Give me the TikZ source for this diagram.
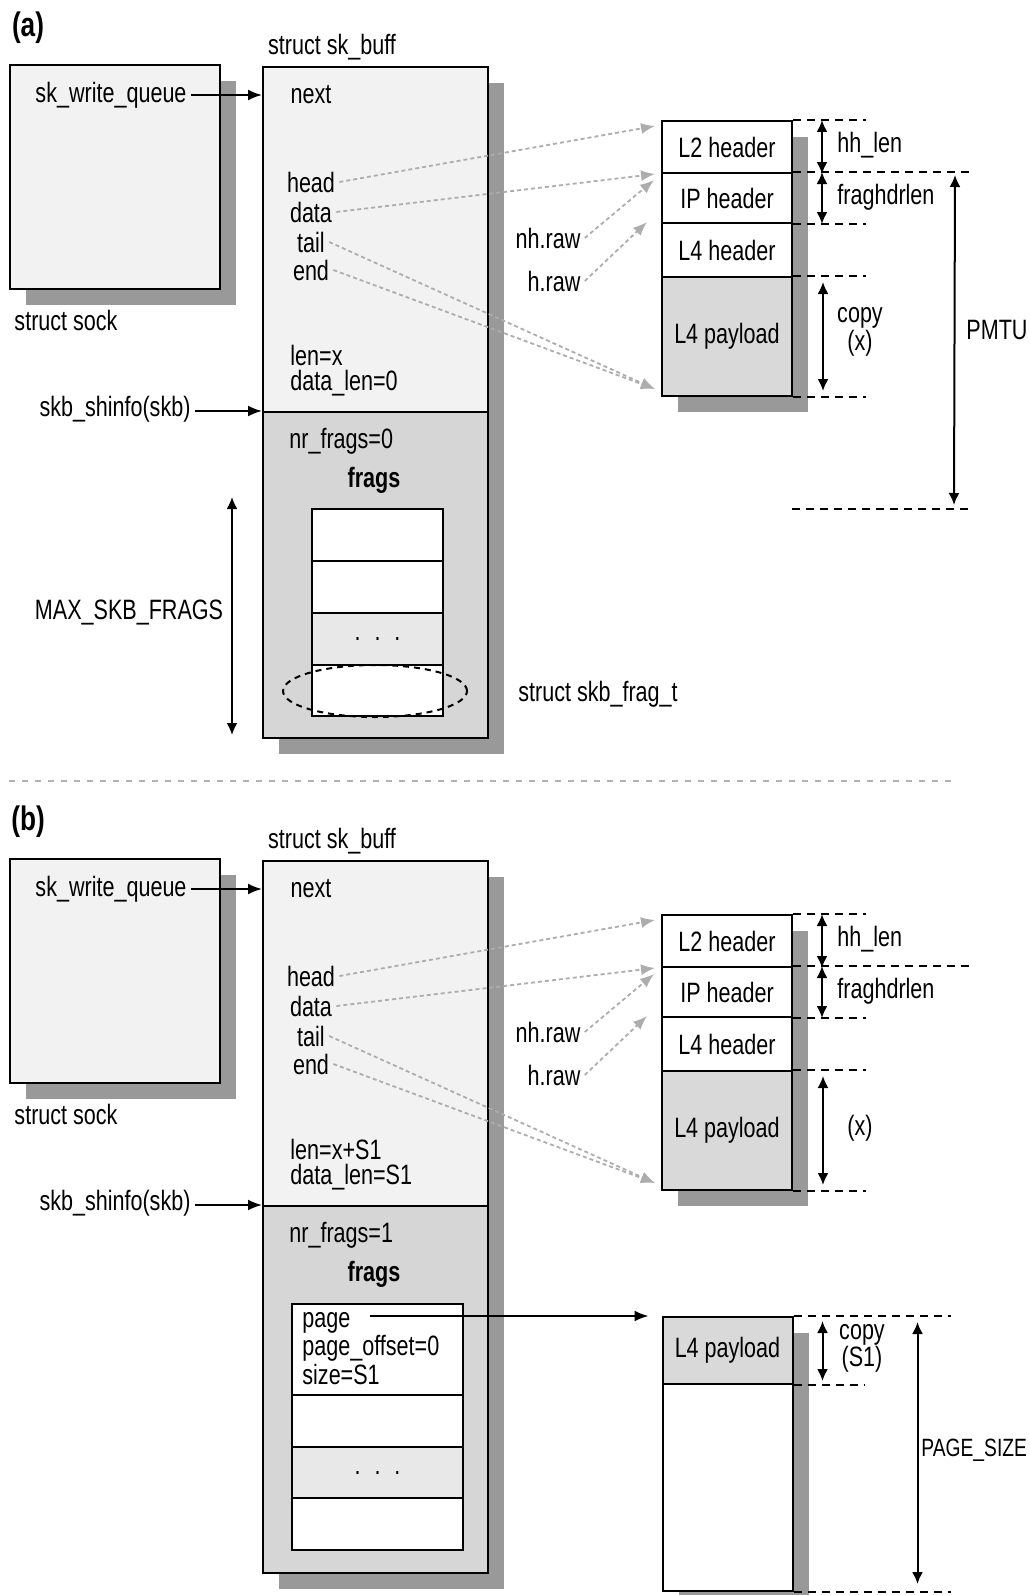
\documentclass[tikz,border=0pt]{standalone}
\usepackage{fontspec}
\setmainfont[FakeStretch=0.77]{Liberation Sans}
\usetikzlibrary{arrows.meta, shapes.geometric, shadows}

\begin{document}
\begin{tikzpicture}[x=0.5pt,y=-0.5pt, inner sep=2pt, font=\fontsize{14}{14}\selectfont,
    box/.style={draw, line width=1pt, inner sep=0pt},
    dropsh/.style={drop shadow={shadow xshift=8pt, shadow yshift=-8pt, fill=black!40, opacity=1}},
    row/.style={box, dropsh, fill=white, minimum width=65pt},
    cell/.style={box, fill=white, minimum width=65.5pt},
    arr/.style={line width=1pt, -{Latex[length=7pt,width=5.5pt]}},
    dim/.style={line width=1pt, {Latex[length=6pt,width=5.5pt]}-{Latex[length=6pt,width=5.5pt]}},
    ptr/.style={black!32, line width=0.9pt, dash pattern=on 2pt off 1.5pt, -{Latex[length=7pt,width=5.5pt]}},
    guide/.style={line width=0.8pt, dash pattern=on 4pt off 3pt},
    tag/.style={font=\fontsize{17}{17}\selectfont\bfseries}]
		\useasboundingbox (0,0) rectangle (1029,1595);

		% (a)
		\node[tag] (taga) at (28,28) {(a)};
		\node[box, dropsh, fill=black!5, minimum width=105pt, minimum height=112pt] (socka) at (115,177) {};
		\node (swqa) at (111,95) {sk\_write\_queue};
		\node (sockna) at (66,320) {struct sock};

		\node (skbna) at (332,47) {struct sk\_buff};
		\node[box, dropsh, fill=black!5, minimum width=112.5pt, minimum height=172.5pt] (skbtopa) at (375.5,239.5) {};
		\node[box, dropsh, fill=black!16, minimum width=112.5pt, minimum height=163pt] (skbinfoa) at (375.5,575) {};
		\node (nexta) at (311,95) {next};
		\node (heada) at (311,182) {head};
		\node (dataa) at (311,212) {data};
		\node (taila) at (311,242) {tail};
		\node (enda) at (311,270) {end};
		\node[anchor=west] (lena) at (286,355) {len=x};
		\node[anchor=west] (dlena) at (286,383) {data\_len=0};
		\node (shinfoa) at (115,409) {skb\_shinfo(skb)};
		\node[anchor=west] (nra) at (285,441) {nr\_frags=0};
		\node[font=\fontsize{14}{14}\selectfont\bfseries] (fragsa) at (374,480) {frags};
		\node[cell, minimum height=26pt] (fa1) at (377.5,535) {};
		\node[cell, minimum height=26pt] (fa2) at (377.5,587) {};
		\node[cell, fill=black!9, minimum height=26pt] (fa3) at (377.5,639) {. \ . \ .};
		\node[cell, minimum height=25.5pt] (fa4) at (377.5,690.5) {};
		\node[draw, ellipse, line width=1pt, dash pattern=on 3pt off 2.5pt, inner sep=0pt, minimum width=92pt, minimum height=26pt] (ovala) at (375,691) {};
		\node (ftna) at (598,694) {struct skb\_frag\_t};
		\coordinate (maxta) at (232,497);
		\coordinate (maxba) at (232,735);
		\draw[dim] (maxta) -- (maxba);
		\node (maxa) at (129,613) {MAX\_SKB\_FRAGS};

		\draw[arr] (swqa) -- (swqa -| skbtopa.west);
		\draw[arr] (shinfoa.east |- skbinfoa.north) -- (skbinfoa.north west);

		% packet (a)
		\node[row, minimum height=26pt] (l2a) at (727,147) {L2 header};
		\node[row, minimum height=25pt] (ipa) at (727,198) {IP header};
		\node[row, minimum height=27pt] (l4a) at (727,250) {L4 header};
		\node[row, fill=black!15, minimum height=59.5pt] (paya) at (727,336.5) {L4 payload};
		\draw[guide] (l2a.north east) -- ++(73,0);
		\draw[guide] (ipa.north east) -- ++(180,0);
		\draw[guide] (ipa.south east) -- ++(73,0);
		\draw[guide] (paya.north east) -- ++(73,0);
		\draw[guide] (paya.south east) -- ++(73,0);
		\coordinate (mtua) at (792,509);
		\draw[guide] (mtua) -- ++(180,0);
		\draw[dim] ([xshift=14.5pt]l2a.north east) -- ([xshift=14.5pt]l2a.south east);
		\node[anchor=west] (hha) at (833,145) {hh\_len};
		\draw[dim] ([xshift=14.5pt]ipa.north east) -- ([xshift=14.5pt]ipa.south east);
		\node[anchor=west] (fhla) at (833,197) {fraghdrlen};
		\draw[dim] ([xshift=15pt,yshift=-3pt]paya.north east) -- ([xshift=15pt,yshift=3pt]paya.south east);
		\node[align=center, font=\fontsize{14}{12}\selectfont] (cpa) at (860,332) {copy\\(x)};
		\draw[dim] ([xshift=81pt,yshift=-1.5pt]ipa.north east) -- ([xshift=81pt,yshift=2pt]mtua);
		\node (pmtua) at (997,330) {PMTU};

		\node (nha) at (548,238) {nh.raw};
		\node (ha) at (554,281) {h.raw};
		\draw[ptr] (heada.east) -- ([shift={(-3pt,-3pt)}]l2a.north west);
		\draw[ptr] (dataa.east) -- ([shift={(-3pt,-1pt)}]ipa.north west);
		\draw[ptr] (nha.east) -- ([shift={(-3.5pt,-4pt)}]ipa.north west);
		\draw[ptr] (ha.east) -- ([shift={(-7pt,0pt)}]l4a.north west);
		\draw[ptr] (taila.east) -- ([shift={(-3pt,4pt)}]paya.south west);
		\draw[ptr] (enda.east) -- ([shift={(-3pt,4pt)}]paya.south west);

		\coordinate (cutl) at (9,781);
		\coordinate (cutr) at (951,781);
		\draw[black!30, line width=1.3pt, dash pattern=on 3pt off 3.5pt] (cutl) -- (cutr);

		% (b)
		\begin{scope}[shift={(0,794)}]
		\node[tag] (tagb) at (28,28) {(b)};
		\node[box, dropsh, fill=black!5, minimum width=105pt, minimum height=112pt] (sockb) at (115,177) {};
		\node (swqb) at (111,95) {sk\_write\_queue};
		\node (socknb) at (66,320) {struct sock};

		\node (skbnb) at (332,47) {struct sk\_buff};
		\node[box, dropsh, fill=black!5, minimum width=112.5pt, minimum height=172.5pt] (skbtopb) at (375.5,239.5) {};
		\node[box, dropsh, fill=black!16, minimum width=112.5pt, minimum height=183.5pt] (skbinfob) at (375.5,595.5) {};
		\node (nextb) at (311,95) {next};
		\node (headb) at (311,182) {head};
		\node (datab) at (311,212) {data};
		\node (tailb) at (311,242) {tail};
		\node (endb) at (311,270) {end};
		\node[anchor=west] (lenb) at (286,355) {len=x+S1};
		\node[anchor=west] (dlenb) at (286,383) {data\_len=S1};
		\node (shinfob) at (115,409) {skb\_shinfo(skb)};
		\node[anchor=west] (nrb) at (285,441) {nr\_frags=1};
		\node[font=\fontsize{14}{14}\selectfont\bfseries] (fragsb) at (374,480) {frags};
		\node[cell, minimum width=85.5pt, minimum height=45.5pt] (fb1) at (377.5,555.5) {};
		\node[cell, minimum width=85.5pt, minimum height=26pt] (fb2) at (377.5,627) {};
		\node[cell, minimum width=85.5pt, fill=black!9, minimum height=25.5pt] (fb3) at (377.5,678.5) {. \ . \ .};
		\node[cell, minimum width=85.5pt, minimum height=26pt] (fb4) at (377.5,730) {};
		\node[anchor=base west] (pageb) at (298,533) {page};
		\node[anchor=base west] (offb) at (298,561) {page\_offset=0};
		\node[anchor=base west] (sizeb) at (298,590) {size=S1};

		\draw[arr] (swqb) -- (swqb -| skbtopb.west);
		\draw[arr] (shinfob.east |- skbinfob.north) -- (skbinfob.north west);

		% packet (b)
		\node[row, minimum height=26pt] (l2b) at (727,147) {L2 header};
		\node[row, minimum height=25pt] (ipb) at (727,198) {IP header};
		\node[row, minimum height=27pt] (l4b) at (727,250) {L4 header};
		\node[row, fill=black!15, minimum height=59.5pt] (payb) at (727,336.5) {L4 payload};
		\draw[guide] (l2b.north east) -- ++(73,0);
		\draw[guide] (ipb.north east) -- ++(180,0);
		\draw[guide] (ipb.south east) -- ++(73,0);
		\draw[guide] (payb.north east) -- ++(73,0);
		\draw[guide] (payb.south east) -- ++(73,0);
		\draw[dim] ([xshift=14.5pt]l2b.north east) -- ([xshift=14.5pt]l2b.south east);
		\node[anchor=west] (hhb) at (833,145) {hh\_len};
		\draw[dim] ([xshift=14.5pt]ipb.north east) -- ([xshift=14.5pt]ipb.south east);
		\node[anchor=west] (fhlb) at (833,197) {fraghdrlen};
		\draw[dim] ([xshift=15pt,yshift=-3pt]payb.north east) -- ([xshift=15pt,yshift=3pt]payb.south east);
		\node (cpb) at (860,334) {(x)};

		\node (nhb) at (548,238) {nh.raw};
		\node (hb) at (554,281) {h.raw};
		\draw[ptr] (headb.east) -- ([shift={(-3pt,-3pt)}]l2b.north west);
		\draw[ptr] (datab.east) -- ([shift={(-3pt,-1pt)}]ipb.north west);
		\draw[ptr] (nhb.east) -- ([shift={(-3.5pt,-4pt)}]ipb.north west);
		\draw[ptr] (hb.east) -- ([shift={(-7pt,0pt)}]l4b.north west);
		\draw[ptr] (tailb.east) -- ([shift={(-3pt,4pt)}]payb.south west);
		\draw[ptr] (endb.east) -- ([shift={(-3pt,4pt)}]payb.south west);

		% page
		\node[row, fill=black!15, minimum height=33.5pt] (pgpayb) at (727.5,556.5) {L4 payload};
		\node[row, minimum height=103.5pt] (pgrestb) at (727.5,693.5) {};
		\coordinate (pgsrcb) at (370,522);
		\draw[arr, shorten >=6.5pt] (pgsrcb) -- (pgsrcb -| pgpayb.west);
		\draw[guide] (pgpayb.north east) -- ++(157,0);
		\draw[guide] (pgpayb.south east) -- ++(71,0);
		\draw[guide] (pgrestb.south east) -- ++(157,0);
		\draw[dim] ([xshift=14.5pt,yshift=-2.5pt]pgpayb.north east) -- ([xshift=14.5pt,yshift=2pt]pgpayb.south east);
		\node[align=center, font=\fontsize{14}{13.5}\selectfont] (cpsb) at (862,554) {copy\\(S1)};
		\draw[dim] ([xshift=62pt,yshift=-3pt]pgpayb.north east) -- ([xshift=62pt,yshift=4pt]pgrestb.south east);
		\node[anchor=west, inner sep=0pt, font=\fontsize{12.5}{12.5}\selectfont] (psb) at (921,656) {PAGE\_SIZE};
		\end{scope}
	\end{tikzpicture}
\end{document}
